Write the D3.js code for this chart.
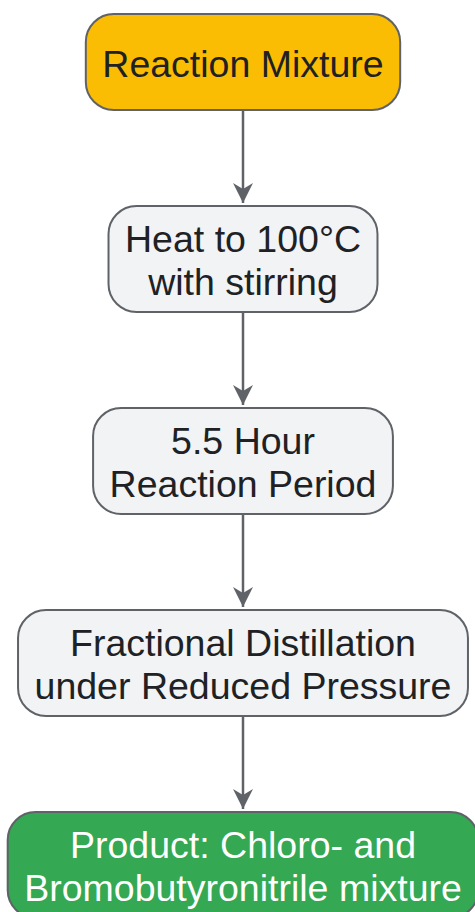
<!DOCTYPE html>
<html>
<head>
<meta charset="utf-8">
<script src="https://cdn.jsdelivr.net/npm/d3@7"></script>
<style>
  html, body { margin: 0; padding: 0; background: #fff; }
  svg { display: block; }
  .label { font-family: "Liberation Sans", Arial, sans-serif; font-size: 37.5px; }
</style>
</head>
<body>
<div id="chart"></div>
<script>
// flowchart steps, top to bottom
const stepIds = ['mix', 'heat', 'period', 'distill', 'product'];
const stepLines = [
  ['Reaction Mixture'],
  ['Heat to 100°C', 'with stirring'],
  ['5.5 Hour', 'Reaction Period'],
  ['Fractional Distillation', 'under Reduced Pressure'],
  ['Product: Chloro- and', 'Bromobutyronitrile mixture']
];
const stepKinds = ['start', 'step', 'step', 'step', 'end'];
const links = [
  ['mix', 'heat'],
  ['heat', 'period'],
  ['period', 'distill'],
  ['distill', 'product']
];

const width = 475;
const height = 912;
const cx = 243;
const lineH = 43;
const padX = 16.5;
const gap = 96;
const top0 = 14;

const fill = { start: '#fbbc04', step: '#f1f3f4', end: '#34a853' };
const textFill = { start: '#202124', step: '#202124', end: '#ffffff' };

const svg = d3.select('#chart')
  .append('svg')
  .attr('width', width)
  .attr('height', height);

svg.append('defs')
  .append('marker')
  .attr('id', 'arrow')
  .attr('viewBox', '0 0 20 22')
  .attr('refX', 20)
  .attr('refY', 11)
  .attr('markerWidth', 20)
  .attr('markerHeight', 22)
  .attr('markerUnits', 'userSpaceOnUse')
  .attr('orient', 'auto')
  .append('path')
  .attr('d', 'M0,1 L20,11 L0,21 L6,11 Z')
  .attr('fill', '#5f6368');

// stack the boxes with a fixed gap between them
let cursor = top0;
const nodes = stepIds.map((id, i) => {
  const h = stepLines[i].length > 1 ? 106 : 96;
  const node = { id, lines: stepLines[i], kind: stepKinds[i], h, cy: cursor + h / 2 };
  cursor += h + gap;
  return node;
});
const byId = Object.fromEntries(nodes.map(d => [d.id, d]));

// links first so boxes sit on top
const linkG = svg.append('g');

const g = svg.append('g')
  .selectAll('g')
  .data(nodes)
  .enter()
  .append('g')
  .attr('transform', d => `translate(${cx},${d.cy})`);

const rects = g.append('rect')
  .attr('fill', d => fill[d.kind])
  .attr('stroke', '#5f6368')
  .attr('stroke-width', 2);

const texts = g.append('text')
  .attr('class', 'label')
  .attr('text-anchor', 'middle')
  .attr('fill', d => textFill[d.kind]);

texts.selectAll('tspan')
  .data(d => d.lines.map((t, i) => ({ t, i, n: d.lines.length })))
  .enter()
  .append('tspan')
  .attr('x', 0)
  .attr('y', d => (d.i - (d.n - 1) / 2) * lineH)
  .attr('dy', '0.39em')
  .text(d => d.t);

// size boxes from their text
texts.each(function (d) {
  let w = 0;
  d3.select(this).selectAll('tspan').each(function () {
    w = Math.max(w, this.getComputedTextLength());
  });
  d.w = w + padX * 2;
});

rects
  .attr('x', d => -d.w / 2)
  .attr('y', d => -d.h / 2)
  .attr('width', d => d.w)
  .attr('height', d => d.h)
  .attr('rx', 28)
  .attr('ry', 28);

linkG.selectAll('line')
  .data(links)
  .enter()
  .append('line')
  .attr('x1', cx)
  .attr('x2', cx)
  .attr('y1', d => byId[d[0]].cy + byId[d[0]].h / 2)
  .attr('y2', d => byId[d[1]].cy - byId[d[1]].h / 2 - 3)
  .attr('stroke', '#5f6368')
  .attr('stroke-width', 2.5)
  .attr('marker-end', 'url(#arrow)');
</script>
</body>
</html>
